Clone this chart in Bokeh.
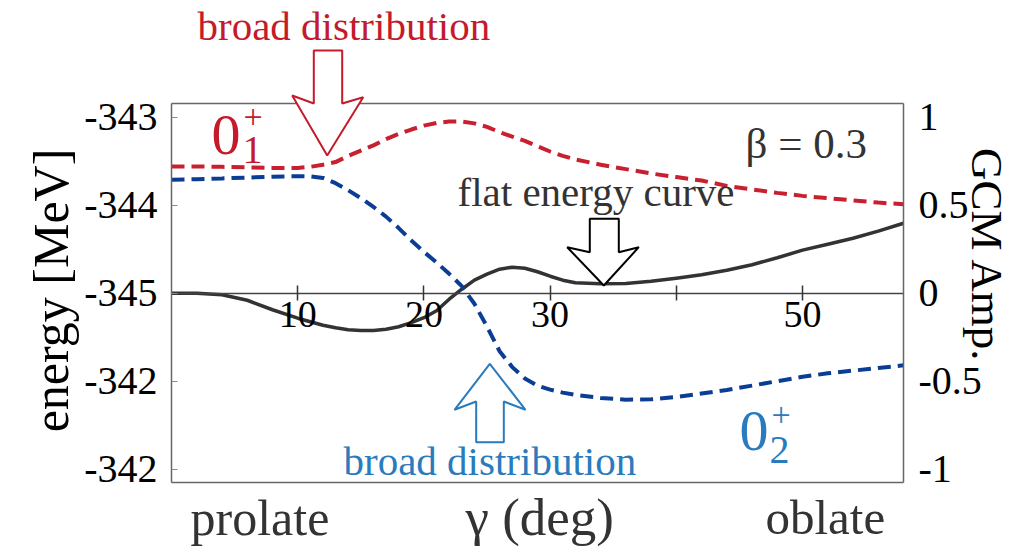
import numpy as np
from bokeh.plotting import figure
from bokeh.models import Range1d, LinearAxis, FixedTicker, Label, PolyAnnotation
from bokeh.embed import file_html
from bokeh.resources import INLINE

# ---------------- data ----------------
gamma = [0, 2, 4, 6, 8, 10, 11, 12, 13, 14, 15, 16, 17, 18, 19, 20, 21, 22, 23,
         24, 25, 26, 27, 28, 29, 30, 31, 32, 34, 36, 38, 40, 42, 44, 46, 48, 50,
         52, 54, 56, 58]

# energy curve [MeV] (solid black, left axis)
energy_curve = [-345.000, -345.000, -345.017, -345.080, -345.188, -345.284, -345.324,
                -345.364, -345.392, -345.415, -345.424, -345.424, -345.409, -345.381,
                -345.335, -345.278, -345.199, -345.068, -344.955, -344.852, -344.784,
                -344.727, -344.705, -344.716, -344.756, -344.807, -344.852, -344.881,
                -344.894, -344.889, -344.864, -344.830, -344.790, -344.739, -344.676,
                -344.597, -344.511, -344.443, -344.375, -344.295, -344.205]

# GCM amplitude of 0+_1 (red dashed, right axis)
amp_0p1 = [0.72, 0.72, 0.718, 0.715, 0.712, 0.712, 0.718, 0.73, 0.745, 0.78, 0.81,
           0.84, 0.875, 0.905, 0.93, 0.952, 0.967, 0.975, 0.975, 0.965, 0.945,
           0.915, 0.89, 0.865, 0.835, 0.805, 0.78, 0.76, 0.73, 0.705, 0.68, 0.66,
           0.64, 0.61, 0.59, 0.57, 0.553, 0.54, 0.527, 0.515, 0.505]

# GCM amplitude of 0+_2 (blue dashed, right axis)
amp_0p2 = [0.645, 0.648, 0.652, 0.657, 0.662, 0.665, 0.664, 0.655, 0.625, 0.585,
           0.54, 0.49, 0.435, 0.37, 0.30, 0.235, 0.175, 0.11, 0.04, -0.06, -0.19,
           -0.33, -0.42, -0.485, -0.525, -0.548, -0.565, -0.578, -0.595, -0.605,
           -0.603, -0.59, -0.57, -0.55, -0.525, -0.50, -0.475, -0.455, -0.44,
           -0.425, -0.41]

x_ticks = [10, 20, 30, 40, 50]
x_tick_labels = ["10", "20", "30", "", "50"]
e_ticks = [-343, -344, -345, -346, -347]
e_tick_labels = ["-343", "-344", "-345", "-342", "-342"]
amp_ticks = [1, 0.5, 0, -0.5, -1]
amp_tick_labels = ["1", "0.5", "0", "-0.5", "-1"]

# ---------------- layout ----------------
W, H = 1024, 547
X0, X1 = 0.0, 58.0            # gamma range of the plot box
PL, PR, PT, PB = 171.0, 903.0, 103.0, 482.0   # plot box in page pixels
ZERO_PY, PX_PER_AMP = 292.7, 176.0


def dx(px):
    return X0 + (px - PL) / (PR - PL) * (X1 - X0)


def dy(py):
    return (ZERO_PY - py) / PX_PER_AMP


A_TOP, A_BOT = dy(PT), dy(PB)


def e_of(a):
    return -345.0 + 2.0 * a


FONT = "Liberation Serif"
RED = "#c41a2c"
RED_LINE = "#c8202e"
BLUE_LINE = "#0b3d94"
BLUE_TXT = "#2a7bbd"
DARK = "#333333"
FRAME = "#666666"

p = figure(width=W, height=H,
           x_range=Range1d(dx(0), dx(W)), y_range=Range1d(dy(H), dy(0)),
           output_backend="svg", toolbar_location=None,
           x_axis_location=None, y_axis_location=None,
           min_border_left=0, min_border_right=0,
           min_border_top=0, min_border_bottom=0)
for g in p.grid:
    g.visible = False
p.outline_line_color = None
p.background_fill_color = "white"
p.border_fill_color = "white"

p.extra_y_ranges = {"energy": Range1d(e_of(dy(H)), e_of(dy(0)))}


def style_labels(ax, size="40px"):
    ax.major_label_text_font = FONT
    ax.major_label_text_font_size = size
    ax.major_label_text_color = "black"
    ax.minor_tick_line_color = None


# left axis (energy) = left edge of the box
la = LinearAxis(y_range_name="energy", ticker=FixedTicker(ticks=e_ticks),
                fixed_location=X0, bounds=(e_of(A_BOT), e_of(A_TOP)),
                major_label_overrides={t: l for t, l in zip(e_ticks, e_tick_labels)})
la.axis_line_color = FRAME
la.axis_line_width = 1.5
la.major_tick_in = 6
la.major_tick_out = 0
la.major_tick_line_color = "#888888"
la.major_label_standoff = 14
style_labels(la)
p.add_layout(la, "left")

# right axis (GCM amplitude) = right edge of the box
ra = LinearAxis(ticker=FixedTicker(ticks=amp_ticks),
                fixed_location=X1, bounds=(A_BOT, A_TOP),
                major_label_overrides={t: l for t, l in zip(amp_ticks, amp_tick_labels)})
ra.axis_line_color = FRAME
ra.axis_line_width = 1.5
ra.major_tick_in = 0
ra.major_tick_out = 0
ra.major_label_standoff = 15
style_labels(ra)
p.add_layout(ra, "right")

# top and bottom edges of the box
for loc, side in ((A_TOP, "above"), (A_BOT, "below")):
    edge = LinearAxis(ticker=FixedTicker(ticks=[]), fixed_location=loc, bounds=(X0, X1))
    edge.axis_line_color = FRAME
    edge.axis_line_width = 1.5
    edge.major_tick_in = 0
    edge.major_tick_out = 0
    edge.minor_tick_line_color = None
    edge.major_label_text_font_size = "0px"
    p.add_layout(edge, side)

# gamma axis drawn through zero
xa = LinearAxis(ticker=FixedTicker(ticks=x_ticks), fixed_location=0, bounds=(X0, X1),
                major_label_overrides={t: l for t, l in zip(x_ticks, x_tick_labels)})
xa.axis_line_color = "#444444"
xa.axis_line_width = 1.5
xa.major_tick_in = 8
xa.major_tick_out = 7
xa.major_tick_line_color = "#333333"
xa.major_tick_line_width = 1.5
xa.major_label_standoff = 2
style_labels(xa, "38px")
p.add_layout(xa, "below")

# curves
p.line(gamma, energy_curve, y_range_name="energy", line_color=DARK, line_width=3.5,
       line_join="round")
p.line(gamma, amp_0p1, line_color=RED_LINE, line_width=4, line_dash="13 7")
p.line(gamma, amp_0p2, line_color=BLUE_LINE, line_width=4, line_dash="13 7")


def arrow(pts, color):
    xs = [dx(a) for a, b in pts]
    ys = [dy(b) for a, b in pts]
    p.add_layout(PolyAnnotation(xs=xs, ys=ys, fill_color="white", fill_alpha=1.0,
                                line_color=color, line_alpha=1.0, line_width=2))


arrow([(313.3, 50), (341.7, 50), (341.7, 103), (362.7, 96.7), (326.7, 155),
       (291.7, 95), (313.3, 103)], RED)
arrow([(589.3, 218.3), (618.3, 218.3), (618.3, 251.7), (638.3, 246.7), (603.3, 285),
       (566.7, 246.7), (589.3, 251.7)], "black")
arrow([(489.3, 363.3), (525, 409.3), (503.3, 401), (503.3, 441.7), (475.7, 441.7),
       (475.7, 401), (454, 409.3)], BLUE_TXT)

BASE_FIX = 0.28   # observed offset of the alphabetic baseline, in em


def label(px, py, text, size, color):
    p.add_layout(Label(x=dx(px), y=dy(py - BASE_FIX * size), text=text, text_font=FONT,
                       text_font_size=f"{size}px", text_color=color, text_align="left",
                       text_baseline="alphabetic"))


def vlabel(px, py, text, size, angle):
    p.add_layout(Label(x=dx(px), y=dy(py), text=text, text_font=FONT,
                       text_font_size=f"{size}px", text_color="black",
                       text_align="center", text_baseline="middle", angle=angle))


label(197, 37, "broad distribution", 41, RED)
label(457, 203, "flat energy curve", 41, DARK)
label(745, 155, "β = 0.3", 43, DARK)
label(343, 472, "broad distribution", 41, BLUE_TXT)

label(211, 151, "0", 58, RED)
label(242, 161, "1", 40, RED)
label(243, 126, "+", 34, RED)

label(739, 447, "0", 58, BLUE_TXT)
label(769, 461, "2", 40, BLUE_TXT)
label(771, 424, "+", 34, BLUE_TXT)

label(190, 531, "prolate", 50, DARK)
label(465, 531, "γ (deg)", 53, DARK)
label(765, 531, "oblate", 49, DARK)

vlabel(50, 290, "energy [MeV]", 50, np.pi / 2)
vlabel(986, 255, "GCM Amp.", 45, -np.pi / 2)

open("out.html", "w").write(file_html(p, INLINE))
